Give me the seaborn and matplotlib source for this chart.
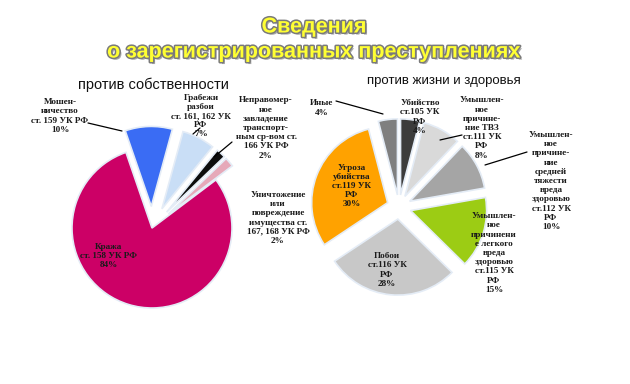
import matplotlib
matplotlib.use("Agg")
import matplotlib.pyplot as plt
import matplotlib.patheffects as pe
from matplotlib.lines import Line2D
import seaborn as sns

# против собственности
prop_labels = ["Мошен-\nничество\nст. 159 УК РФ\n10%",
               "Грабежи\nразбои\nст. 161, 162 УК\nРФ\n7%",
               "Неправомер-\nное\nзавладение\nтранспорт-\nным ср-вом ст.\n166 УК РФ\n2%",
               "Уничтожение\nили\nповреждение\nимущества ст.\n167, 168 УК РФ\n2%",
               "Кража\nст. 158 УК РФ\n84%"]
prop_values = [10, 7, 2, 2, 84]
prop_colors = ["#3a6cf4", "#c9def6", "#0d0d0d", "#e6a9b9", "#cc0066"]

# против жизни и здоровья
life_labels = ["Убийство\nст.105 УК\nРФ\n4%",
               "Умышлен-\nное\nпричине-\nние ТВЗ\nст.111 УК\nРФ\n8%",
               "Умышлен-\nное\nпричине-\nние\nсредней\nтяжести\nвреда\nздоровью\nст.112 УК\nРФ\n10%",
               "Умышлен-\nное\nпричинени\nе легкого\nвреда\nздоровью\nст.115 УК\nРФ\n15%",
               "Побои\nст.116 УК\nРФ\n28%",
               "Угроза\nубийства\nст.119 УК\nРФ\n30%",
               "Иные\n4%"]
life_values = [4, 8, 10, 15, 28, 30, 4]
life_colors = ["#3c3c3c", "#d9d9d9", "#a5a5a5", "#9ccc14", "#c8c8c8", "#ffa200", "#7f7f7f"]

sns.set_theme(style="white")
plt.rcParams['font.family'] = ['DejaVu Sans']

W, H = 630, 384
fig = plt.figure(figsize=(W / 100, H / 100), dpi=100)
fig.patch.set_facecolor("white")


def pie_axes(cx, cy, r, half=1.6):
    side = 2 * half * r
    ax = fig.add_axes([(cx - side / 2) / W, (H - cy - side / 2) / H, side / W, side / H])
    ax.set_axis_off()
    return ax


def fx(x, y):
    return x / W, 1 - y / H


def lead(x1, y1, x2, y2):
    a, b = fx(x1, y1)
    c, d = fx(x2, y2)
    fig.add_artist(Line2D([a, c], [b, d], transform=fig.transFigure, color="black", lw=0.9))


lab_kw = dict(family="Liberation Serif", weight="bold", fontsize=6.6,
              ha="center", va="center", linespacing=1.2, color="#1a1a1a")
edge = dict(edgecolor="#e4ecf6", linewidth=1.2)

# левая диаграмма
ax1 = pie_axes(152, 228, 80)
ax1.pie(prop_values, colors=prop_colors, startangle=109, counterclock=False,
        explode=[0.27, 0.27, 0.27, 0.27, 0], wedgeprops=edge)
ax1.set_xlim(-1.6, 1.6)
ax1.set_ylim(-1.6, 1.6)

# правая диаграмма
ax2 = pie_axes(399, 207, 76)
ax2.pie(life_values, colors=life_colors, startangle=90, counterclock=False,
        explode=[0.16] * 7, wedgeprops=edge)
ax2.set_xlim(-1.6, 1.6)
ax2.set_ylim(-1.6, 1.6)

# подписи
prop_pos = [(60, 116), (201, 116), (266, 128), (278, 218), (109, 256)]
for t, (x, y) in zip(prop_labels, prop_pos):
    fig.text(*fx(x, y), t, **lab_kw)
life_pos = [(420, 117), (482, 128), (551, 181), (494, 253), (387, 270), (352, 186), (322, 108)]
for t, (x, y) in zip(life_labels, life_pos):
    fig.text(*fx(x, y), t, **lab_kw)

lead(88, 123, 122, 131)
lead(193, 134, 200, 128)
lead(214, 157, 232, 142)
lead(336, 101, 383, 114)
lead(440, 140, 462, 135)
lead(485, 165, 527, 152)

# заголовки
title_fx = [pe.SimplePatchShadow(offset=(1.5, -1.5), shadow_rgbFace="#555555", alpha=0.5),
            pe.withStroke(linewidth=2.2, foreground="#7a7a7a")]
fig.text(*fx(314, 27), "Сведения", ha="center", va="center", fontsize=15.5,
         weight="bold", color="#ffff33", family="Liberation Sans", path_effects=title_fx)
fig.text(*fx(314, 52), "о зарегистрированных преступлениях", ha="center", va="center",
         fontsize=15.5, weight="bold", color="#ffff33", family="Liberation Sans",
         path_effects=title_fx)

fig.text(*fx(153, 85), "против собственности", ha="center", va="center",
         fontsize=10.5, family="Liberation Sans", color="#111111")
fig.text(*fx(444, 81), "против жизни и здоровья", ha="center", va="center",
         fontsize=9.5, family="Liberation Sans", color="#111111")

fig.savefig("out.png", dpi=100, facecolor="white")
